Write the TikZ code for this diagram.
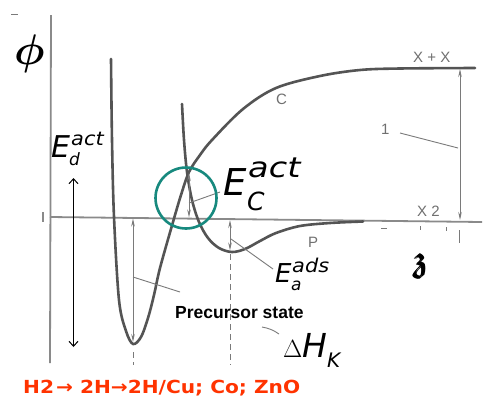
\documentclass[tikz,border=0pt]{standalone}
\usepackage{amsmath,amssymb}
\usepackage{fontspec}
\newfontfamily\labfont{DejaVu Sans}
\newfontfamily\arialfont{Liberation Sans}
\usetikzlibrary{arrows.meta}
\definecolor{curvegray}{HTML}{545454}
\definecolor{axisgray}{HTML}{8A8A8A}
\definecolor{thingray}{HTML}{7A7A7A}
\definecolor{labgray}{HTML}{707070}
\definecolor{tealc}{HTML}{17897E}
\definecolor{redtext}{HTML}{FF3300}
\newcommand{\fsz}[1]{\fontsize{#1}{#1}\selectfont}
\begin{document}
\begin{tikzpicture}[x=1pt,y=-1pt,
  curve/.style={draw=curvegray,line width=2.6pt,line cap=round,line join=round},
  axisline/.style={draw=axisgray,line width=1.8pt},
  thinline/.style={draw=thingray,line width=0.9pt},
  dimarrow/.style={thinline,{Stealth[length=8pt,width=3.5pt]}-{Stealth[length=8pt,width=3.5pt]}},
  lbl/.style={inner sep=0pt,anchor=base west},
  graylbl/.style={lbl,text=labgray,font=\arialfont\fsz{15}},
  elbl/.style={lbl,font=\labfont\itshape},
]
\useasboundingbox (0,0) rectangle (486,400);
\fill[white] (0,0) rectangle (486,400);
% axes
\draw[axisline] (51,15) -- (50,363);
\draw[axisline] (50,217) -- (482,222);
\draw[thingray,line width=1pt] (11,14) -- (18,14);
\draw[axisgray,line width=1.2pt] (43,212) -- (43,222);
% chemisorption curve (well + C)
\draw[curve] plot[smooth,tension=0.55] coordinates {(111,59) (112,140) (114,217) (119,300) (126,331) (133,344) (141,337) (148,318) (154,295) (160,268) (173,222) (181,195) (189,172) (200,155) (212,140) (243,109) (276,88) (320,76) (360,70) (400,68.5) (475,68)};
% physisorption curve P
\draw[curve] plot[smooth,tension=0.55] coordinates {(182,104) (184,140) (187,172) (192,200) (199,222) (208,238) (219,248) (232,252) (245,249) (260,241) (276,233) (300,226) (330,223) (363,221.5)};
% dashed verticals
\draw[thinline,dash pattern=on 6pt off 4pt] (133,352) -- (133,365);
\draw[thinline,dash pattern=on 6pt off 4pt] (230,254) -- (230,365);
% dimension arrows
\coordinate (wellTop) at (133,218.5);
\coordinate (wellBot) at (133,342);
\draw[dimarrow] (wellTop) -- (wellBot);
\coordinate (pTop) at (230,220);
\coordinate (pBot) at (230,250.5);
\draw[dimarrow] (pTop) -- (pBot);
\coordinate (cTop) at (189,173);
\coordinate (cBot) at (189,217.5);
\draw[dimarrow] (cTop) -- (cBot);
\coordinate (xTop) at (460,69);
\coordinate (xBot) at (460,220);
\draw[dimarrow] (xTop) -- (xBot);
\draw[thinline] (459,230) -- (459,243);
\draw[thinline] (381,228) -- (387,228);
\draw[thinline] (420,226) -- (420,230);
\draw[thinline] (446,227) -- (446,231);
% leader lines
\draw[thinline] (133,277) -- (180,292);
\draw[thinline] (231,239) -- (273,269);
\draw[thinline] (189,203) -- (220,192);
\draw[thinline] (400,133) -- (458,148);
\draw[thinline] (262,327) to[bend left=12] (279,334);
% black arrow
\coordinate (bTop) at (73.5,178);
\coordinate (bBot) at (73.5,347);
\draw[black,line width=1pt,{Straight Barb[length=5pt,width=9pt]}-{Straight Barb[length=5pt,width=9pt]}] (bTop) -- (bBot);
% teal circle
\draw[tealc,line width=2.6pt] (186,198) circle[radius=30.5pt];
% gray labels
\node[graylbl] (xx) at (413,62) {X + X};
\node[graylbl] (x2) at (417,216) {X 2};
\node[graylbl] (clbl) at (276,104) {C};
\node[graylbl] (one) at (381,134) {1};
\node[graylbl] (plbl) at (308,247) {P};
% phi and z
\node[lbl] (phi) at (14,64) {\scalebox{1.72}{\fsz{24.88}$\boldsymbol{\phi}$}};
\node[lbl] (zlbl) at (414,271) {\scalebox{1.45}{\fsz{24.88}$\pmb{\mathfrak{z}}$}};
% E labels
\node[elbl,font=\labfont\itshape\fsz{30}] (ed) at (51,157) {E};
\node[elbl,font=\labfont\itshape\fsz{19}] (edsup) at (71,145) {\scalebox{1.1}[1]{act}};
\node[elbl,font=\labfont\itshape\fsz{17}] (edsub) at (69,165) {d};
\node[elbl,font=\labfont\itshape\fsz{37}] (ec) at (223,195) {E};
\node[elbl,font=\labfont\itshape\fsz{28}] (ecsup) at (248,177) {\scalebox{1.2}[1]{act}};
\node[elbl,font=\labfont\itshape\fsz{25}] (ecsub) at (247,210) {C};
\node[elbl,font=\labfont\itshape\fsz{26}] (ea) at (275,282) {E};
\node[elbl,font=\labfont\itshape\fsz{19}] (easup) at (292,272) {\scalebox{1.1}[1]{ads}};
\node[elbl,font=\labfont\itshape\fsz{17}] (easub) at (291,290) {a};
\node[lbl] (delta) at (283,357) {\fsz{24.88}$\Delta$};
\node[elbl,font=\labfont\itshape\fsz{33}] (dh) at (302,357) {H};
\node[elbl,font=\labfont\itshape\fsz{20}] (dhsub) at (327,367) {K};
% text
\node[lbl,font=\arialfont\bfseries\fsz{17.5}] (prec) at (175,318) {Precursor state};
\node[lbl,text=redtext,font=\labfont\bfseries\fsz{18}] (react) at (23,393) {\scalebox{1.12}[1]{H2\kern0.1em→ 2H→2H/Cu; Co; ZnO}};
\end{tikzpicture}
\end{document}
